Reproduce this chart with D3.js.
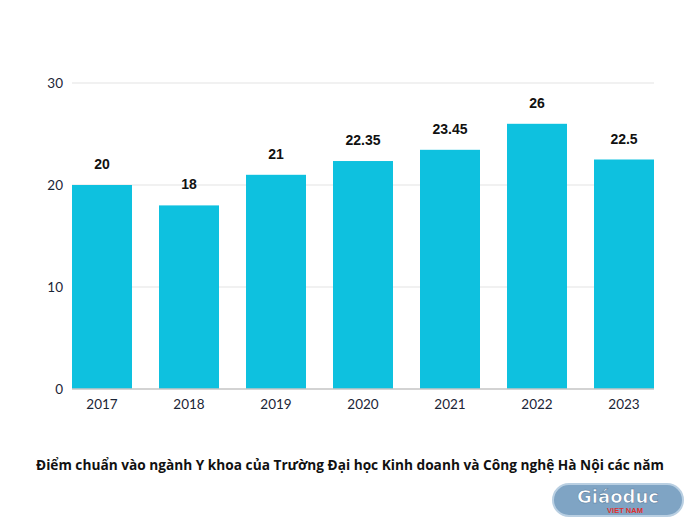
<!DOCTYPE html>
<html><head><meta charset="utf-8">
<script src="https://cdn.jsdelivr.net/npm/d3@7"></script>
<style>body{margin:0;background:#fff}</style>
</head><body>
<svg id="c" width="700" height="525"></svg>
<script>
const years = ["2017","2018","2019","2020","2021","2022","2023"];
const scores = [20, 18, 21, 22.35, 23.45, 26, 22.5];
const valueLabels = ["20","18","21","22.35","23.45","26","22.5"];
const yTicks = [0, 10, 20, 30];
const title = "Điểm chuẩn vào ngành Y khoa của Trường Đại học Kinh doanh và Công nghệ Hà Nội các năm";

const svg = d3.select("#c");
const x = d3.scaleBand().domain(years).range([72, 654]).paddingInner(27/87).paddingOuter(0);
const y = d3.scaleLinear().domain([0, 30]).range([389, 83]);

svg.append("g").selectAll("line").data(yTicks.filter(d => d > 0)).join("line")
  .attr("x1", 72).attr("x2", 654).attr("y1", d => y(d)).attr("y2", d => y(d))
  .attr("stroke", "#e3e3e3").attr("stroke-width", 1.2);

svg.append("g").selectAll("text").data(yTicks).join("text")
  .attr("x", 63).attr("y", d => y(d)).attr("dy", "0.35em")
  .attr("text-anchor", "end").attr("font-family", "Lato, sans-serif").attr("font-size", 13.5)
  .attr("fill", "#1b2536").text(d => d);

svg.append("g").selectAll("rect").data(scores).join("rect")
  .attr("x", (d, i) => x(years[i])).attr("width", x.bandwidth())
  .attr("y", d => y(d)).attr("height", d => y(0) - y(d))
  .attr("fill", "#0ec1df");

svg.append("line").attr("x1", 72).attr("x2", 654).attr("y1", y(0)).attr("y2", y(0))
  .attr("stroke", "#c4c4c4").attr("stroke-width", 1.5);

svg.append("g").selectAll("text").data(scores).join("text")
  .attr("x", (d, i) => x(years[i]) + x.bandwidth() / 2).attr("y", d => y(d) - 16)
  .attr("text-anchor", "middle").attr("font-family", "Liberation Sans, Arial").attr("font-weight", "bold")
  .attr("font-size", 14).attr("fill", "#111").text((d, i) => valueLabels[i]);

svg.append("g").selectAll("text").data(years).join("text")
  .attr("x", d => x(d) + x.bandwidth() / 2).attr("y", 409)
  .attr("text-anchor", "middle").attr("font-family", "Lato, sans-serif").attr("font-size", 13.5)
  .attr("fill", "#1b2536").text(d => d);

svg.append("text").attr("x", 350).attr("y", 470).attr("text-anchor", "middle")
  .attr("font-family", "Open Sans").attr("font-weight", "bold").attr("font-size", 13.6)
  .attr("textLength", 628).attr("lengthAdjust", "spacingAndGlyphs")
  .attr("fill", "#111").text(title);

const lg = svg.append("g").attr("transform", "translate(553,484)");
lg.append("rect").attr("width", 130).attr("height", 32).attr("rx", 16)
  .attr("fill", "#7fa4c4").attr("stroke", "#b9cfe2").attr("stroke-width", 2);
lg.append("text").attr("x", 65).attr("y", 19).attr("text-anchor", "middle")
  .attr("font-family", "DejaVu Sans").attr("font-weight", "bold").attr("font-size", 18)
  .attr("fill", "#fff").attr("stroke", "#5a7fa0").attr("stroke-width", 0.6).text("Giáoduc");
lg.append("text").attr("x", 72).attr("y", 29).attr("text-anchor", "middle")
  .attr("font-family", "Liberation Sans").attr("font-weight", "bold").attr("font-size", 7.5)
  .attr("fill", "#e0312f").text("VIET NAM");
</script>
</body></html>
